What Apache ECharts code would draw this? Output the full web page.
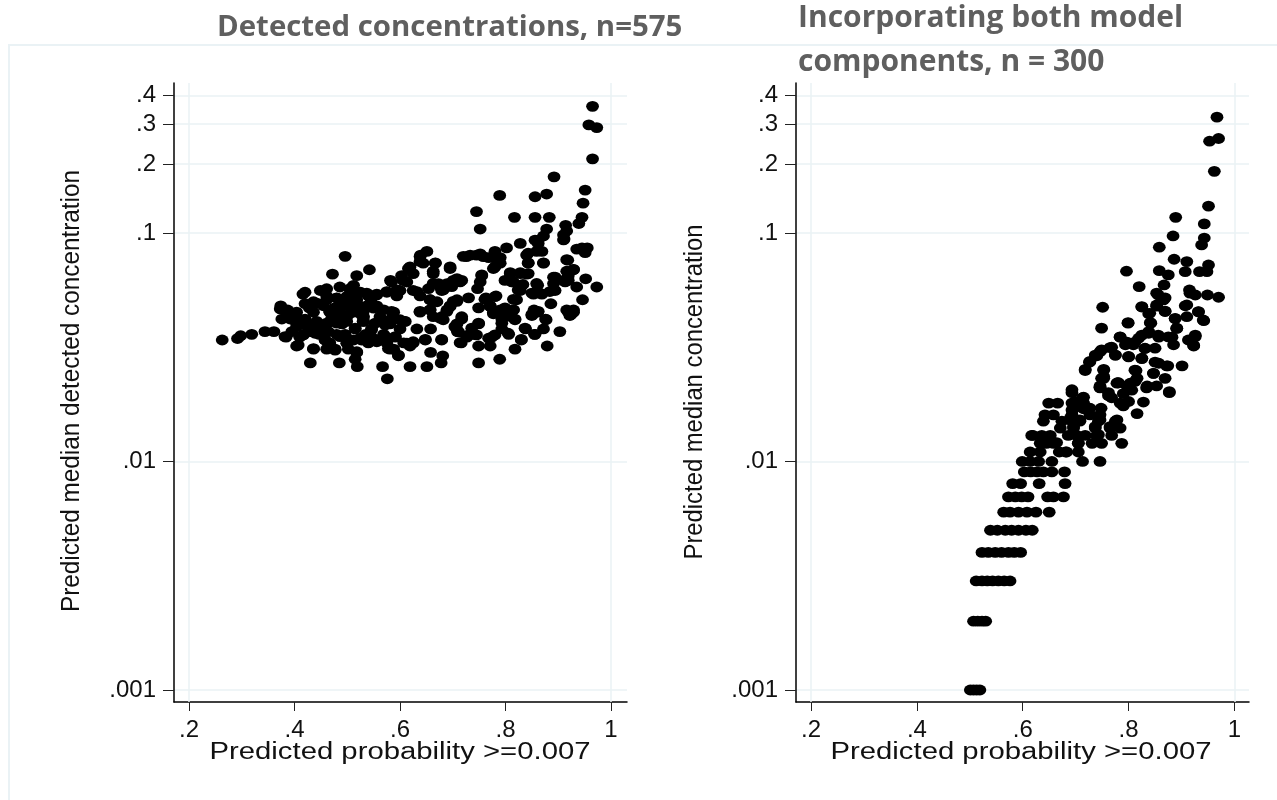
<!DOCTYPE html>
<html><head><meta charset="utf-8">
<style>html,body{margin:0;padding:0;background:#fff}#c{width:1277px;height:800px}</style>
<script src="https://cdn.jsdelivr.net/npm/echarts@6/dist/echarts.min.js"></script></head>
<body><div id="c"></div>
<script>
const xTicks = [0.2,0.4,0.6,0.8,1];
const yTicks = [0.001,0.01,0.1,0.2,0.3,0.4];
const leftTitle = 'Detected concentrations, n=575';
const rightTitle = 'Incorporating both model\ncomponents, n = 300';
const xName = 'Predicted probability >=0.007';
const leftYName = 'Predicted median detected concentration';
const rightYName = 'Predicted median concentration';
const detected = [
[.263,.034],[.292,.0345],[.298,.0355],[.319,.036],[.344,.037],[.361,.037],[.374,.048],[.387,.046],[.376,.042],[.392,.042],
[.384,.035],[.404,.032],[.436,.031],[.430,.027],[.485,.027],[.519,.026],[.515,.028],[.567,.026],[.576,.023],[.619,.026],
[.651,.026],[.678,.027],[.681,.029],[.658,.030],[.597,.029],[.581,.031],[.749,.027],[.789,.028],[.818,.031],[.830,.034],
[.879,.032],[.903,.037],[.855,.036],[.838,.038],[.872,.038],[.876,.042],[.716,.033],[.749,.032],[.771,.032],[.774,.035],
[.739,.036],[.749,.040],[.727,.035],[.708,.040],[.709,.037],[.717,.043],[.679,.034],[.648,.034],[.632,.038],[.658,.038],
[.806,.036],[.793,.038],[.793,.042],[.818,.042],[.790,.046],[.815,.046],[.799,.047],[.821,.051],[.828,.056],[.831,.059],
[.799,.062],[.809,.067],[.828,.067],[.840,.066],[.815,.061],[.853,.054],[.861,.059],[.869,.054],[.886,.049],[.854,.046],
[.850,.044],[.861,.045],[.894,.056],[.891,.064],[.910,.062],[.919,.062],[.916,.068],[.929,.069],[.918,.076],[.935,.058],
[.952,.063],[.973,.058],[.946,.051],[.919,.045],[.929,.045],[.924,.044],[.935,.085],[.945,.086],[.955,.086],[.951,.082],
[.843,.074],[.872,.074],[.840,.080],[.869,.083],[.862,.093],[.856,.093],[.872,.097],[.878,.104],[.828,.090],[.802,.086],
[.780,.083],[.790,.078],[.780,.071],[.755,.065],[.752,.061],[.747,.057],[.730,.052],[.763,.052],[.782,.053],[.749,.047],
[.771,.048],[.777,.045],[.720,.079],[.733,.080],[.752,.081],[.768,.078],[.695,.071],[.717,.062],[.701,.062],[.689,.060],
[.673,.060],[.679,.056],[.708,.051],[.695,.048],[.689,.046],[.679,.043],[.663,.043],[.657,.051],[.670,.050],[.638,.045],
[.657,.046],[.651,.083],[.639,.080],[.638,.075],[.667,.074],[.663,.068],[.619,.071],[.603,.065],[.582,.062],[.613,.061],
[.625,.056],[.654,.057],[.638,.053],[.600,.056],[.594,.053],[.575,.055],[.556,.054],[.540,.053],[.542,.069],[.518,.065],
[.496,.079],[.472,.066],[.486,.058],[.512,.059],[.461,.057],[.449,.056],[.420,.055],[.416,.054],[.420,.049],[.436,.050],
[.461,.053],[.480,.052],[.505,.054],[.518,.051],[.493,.048],[.505,.050],[.537,.048],[.556,.048],[.467,.045],[.436,.045],
[.483,.045],[.512,.045],[.531,.043],[.562,.043],[.588,.045],[.581,.040],[.608,.041],[.546,.038],[.515,.038],[.480,.036],
[.461,.040],[.436,.040],[.449,.039],[.420,.042],[.404,.039],[.417,.036],[.430,.037],[.458,.034],[.467,.033],[.461,.031],
[.477,.031],[.502,.031],[.518,.030],[.512,.034],[.527,.034],[.556,.034],[.569,.036],[.591,.035],[.607,.033],[.625,.033],
[.619,.032],[.588,.031],[.546,.035],[.496,.036],[.404,.045],[.505,.057],[.525,.055],[.495,.050],[.476,.047],[.520,.047],
[.545,.050],[.530,.041],[.497,.043],[.470,.042],[.570,.041],[.590,.042],[.600,.038],[.535,.036],[.490,.040],[.447,.036],
[.410,.035],[.395,.037],[.408,.042],[.425,.039],[.500,.033],[.540,.033],[.575,.033],[.530,.045],[.455,.048],[.428,.047],
[.745,.124],[.752,.104],[.789,.146],[.817,.117],[.856,.144],[.878,.148],[.856,.117],[.883,.117],[.892,.176],[.951,.154],
[.947,.135],[.945,.117],[.939,.110],[.914,.108],[.916,.102],[.910,.098],[.911,.094],[.965,.358],[.958,.297],[.973,.289],[.965,.211],
[.429,.0485],[.442,.0493],[.461,.051],[.480,.0519],[.499,.0527],[.518,.0536],[.537,.0545],[.556,.0536],[.575,.0554],[.594,.0563],
[.606,.062],[.584,.061],[.616,.0699],[.638,.0788],[.667,.0737],[.663,.0664],[.695,.0699],[.676,.0582],[.695,.0602],[.708,.0631],
[.486,.0477],[.505,.0485],[.524,.0477],[.550,.0469],[.569,.0461],[.584,.0454],[.467,.0454],[.483,.0439],[.502,.0439],[.512,.0454],
[.527,.0439],[.581,.0417],[.600,.0417],[.610,.041],[.572,.0396],[.553,.0403],[.531,.041],[.499,.041],[.480,.0403],[.461,.0403],
[.442,.041],[.423,.0403],[.407,.0396],[.398,.0417],[.373,.0465],[.385,.045],[.382,.0352],[.407,.0323],[.436,.0312],[.417,.0358],
[.439,.0364],[.458,.034],[.477,.0307],[.486,.0352],[.464,.037],[.499,.0329],[.515,.0383],[.524,.0346],[.518,.0302],[.546,.0377],
[.556,.0334],[.572,.0352],[.591,.0352],[.578,.0312],[.597,.0292],[.613,.0329],[.625,.0334],[.648,.0342],[.679,.0342],[.638,.0454],
[.657,.0461],[.676,.0424],[.695,.0477],[.708,.0502],[.657,.051],[.632,.0554],[.663,.0602],[.625,.0664],[.644,.0737],[.708,.0377],
[.714,.0611],[.698,.0582],[.682,.0563],[.726,.0788],[.745,.08],[.758,.0788],[.783,.0764],[.777,.0699],[.790,.0737],[.755,.0656],
[.843,.0815],[.859,.083],[.843,.0737],[.872,.0737],[.862,.09],[.910,.0932],[.916,.0764],[.929,.0693],[.894,.0641],[.919,.0649],
[.913,.0611],[.891,.0601],[.884,.0554],[.859,.0601],[.850,.0545],[.865,.0545],[.809,.0664],[.828,.0664],[.843,.0664],[.812,.0611],
[.833,.0595],[.824,.0563],[.815,.0512],[.799,.0461],[.815,.0461],[.809,.0431],[.818,.0417],[.793,.0403],[.805,.0364],[.780,.0526],
[.761,.0512],[.771,.0477],[.777,.0443],[.862,.0454],[.850,.0435],[.837,.0383],[.856,.036],[.877,.0417],[.830,.0342],[.922,.0435],
[.916,.046],[.929,.046],[.717,.042],[.704,.0389],[.711,.0369],[.749,.0403],[.736,.0383],[.730,.0358],[.745,.0358],[.714,.0331],
[.768,.0346],[.780,.0358],[.682,.0417],[.701,.0502],[.689,.0454]
];
const combined = [
[.967,.321],[.970,.259],[.953,.252],[.962,.186],[.951,.131],[.889,.117],[.943,.1095],[.884,.097],[.943,.095],[.938,.0886],
[.858,.0866],[.886,.0767],[.910,.0749],[.951,.0724],[.858,.0684],[.907,.0677],[.934,.0677],[.948,.0677],[.796,.068],[.875,.0655],
[.820,.0582],[.867,.0592],[.915,.0563],[.853,.0545],[.926,.0535],[.949,.0535],[.970,.0523],[.866,.0509],[.853,.0484],[.825,.0476],
[.751,.0473],[.910,.0484],[.869,.0453],[.932,.0453],[.840,.0445],[.910,.043],[.888,.0423],[.942,.0413],[.842,.0403],[.799,.0403],
[.749,.0383],[.891,.0383],[.926,.0352],[.838,.0364],[.913,.034],[.819,.0346],[.784,.035],[.857,.035],[.882,.035],[.885,.0324],
[.923,.032],[.794,.0324],[.809,.0324],[.768,.0316],[.749,.0308],[.831,.0313],[.850,.0313],[.775,.0292],[.740,.029],[.800,.0288],
[.825,.0283],[.727,.0274],[.857,.0269],[.718,.0253],[.874,.0262],[.901,.0262],[.753,.0253],[.814,.025],[.847,.0243],[.753,.0231],
[.869,.0231],[.779,.0221],[.812,.0224],[.746,.0214],[.797,.0214],[.835,.0214],[.853,.0214],[.693,.0206],[.877,.0202],
[.501,.001],[.507,.001],[.513,.001],[.519,.001],[.507,.002],[.515,.002],[.523,.002],[.530,.002],
[.512,.003],[.523,.003],[.533,.003],[.543,.003],[.554,.003],[.565,.003],[.576,.003],
[.523,.004],[.535,.004],[.548,.004],[.560,.004],[.573,.004],[.584,.004],[.596,.004],
[.539,.005],[.552,.005],[.567,.005],[.579,.005],[.592,.005],[.606,.005],[.618,.005],
[.564,.006],[.576,.006],[.592,.006],[.608,.006],[.625,.006],[.650,.006],
[.573,.007],[.586,.007],[.598,.007],[.610,.007],[.647,.007],[.658,.007],[.677,.007],
[.581,.008],[.596,.008],[.631,.008],[.680,.008],
[.603,.009],[.615,.009],[.627,.009],[.639,.009],[.655,.009],[.679,.009],
[.599,.010],[.614,.010],[.630,.010],[.655,.010],[.713,.010],[.746,.010],
[.614,.011],[.633,.011],[.669,.011],[.681,.011],[.705,.011],
[.633,.012],[.645,.012],[.658,.012],[.705,.012],[.731,.012],[.749,.012],
[.619,.013],[.636,.013],[.652,.013],[.686,.013],[.702,.013],[.718,.013],[.740,.013],[.768,.013],
[.671,.014],[.696,.014],[.737,.014],[.765,.014],[.784,.014],
[.639,.015],[.674,.015],[.693,.015],[.708,.015],[.743,.015],[.775,.015],
[.642,.016],[.658,.016],[.693,.016],[.727,.016],[.746,.016],
[.696,.017],[.715,.017],[.649,.018],[.666,.018],[.693,.018],[.715,.018],[.784,.018],
[.713,.019],[.768,.019],[.693,.020],[.762,.020],[.746,.021],[.778,.022],[.753,.0235],[.718,.025],
[.799,.0405],[.841,.0405],[.825,.0474],[.838,.0443],[.853,.0478],[.869,.0455],[.856,.0535],[.869,.052],[.916,.0545],[.907,.048],
[.932,.0451],[.888,.0421],[.941,.0416],[.891,.0382],[.784,.0351],[.797,.0333],[.812,.0333],[.825,.0357],[.838,.037],[.856,.0357],
[.875,.0351],[.926,.0357],[.916,.0339],[.923,.0322],[.746,.0302],[.765,.0315],[.775,.0292],[.800,.0287],[.825,.0282],[.831,.0312],
[.737,.0292],[.726,.0272],[.753,.0251],[.749,.0231],[.746,.0211],[.812,.0251],[.816,.0231],[.850,.0272],[.872,.0262],[.847,.0243],
[.877,.02],[.781,.0221],[.803,.022],[.834,.021],[.762,.0194],[.790,.0198],[.806,.0205],[.790,.0175],[.828,.0182],[.816,.0162],
[.800,.0183],[.715,.0191],[.699,.0183],[.727,.0171],[.748,.0171],[.693,.0168],[.708,.0152],[.690,.0155],[.746,.0152],[.778,.0152],
[.737,.0142],[.765,.0142],[.787,.012],[.743,.0131],[.617,.013],[.664,.0121],[.683,.011],[.705,.012],[.696,.0142]
];
const frameColor = '#eaf2f5', ink = '#000', dot = '#000', textColor = '#111';
const axisFont = 'Liberation Sans';
const measure = document.createElement('canvas').getContext('2d');
function fit(text, size, target){ measure.font = size+'px "'+axisFont+'"'; return target/measure.measureText(text).width; }

function xAxisOpt(grid, min, max){
  return {type:'value',gridIndex:grid,min,max,
    axisLine:{onZero:false,lineStyle:{color:ink,width:1.5}},
    axisTick:{show:true,length:9,customValues:xTicks,lineStyle:{color:'#222',width:1}},
    axisLabel:{show:true,customValues:xTicks,margin:16,fontFamily:axisFont,fontSize:24,color:textColor,
      hideOverlap:false,showMinLabel:true,showMaxLabel:true,
      formatter:v=>String(v).replace(/^0/,'')},
    splitLine:{show:false}};
}
function yAxisOpt(grid){
  return {type:'log',logBase:10,gridIndex:grid,min:0.000886,max:0.453,
    axisLine:{onZero:false,lineStyle:{color:ink,width:1.5}},
    axisTick:{show:true,length:11,customValues:yTicks,lineStyle:{color:'#222',width:1}},
    axisLabel:{show:true,customValues:yTicks,margin:18,fontFamily:axisFont,fontSize:24,color:textColor,
      hideOverlap:false,formatter:v=>String(+(+v).toPrecision(3)).replace(/^0/,'')},
    splitLine:{show:true,lineStyle:{color:frameColor,width:1.5}}};
}
function scatter(i,data){
  return {type:'scatter',xAxisIndex:i,yAxisIndex:i,data,symbol:'circle',symbolSize:[12.8,10.8],
    itemStyle:{color:dot,opacity:1},clip:false,silent:true,z:5,
    markLine:{silent:true,symbol:'none',label:{show:false},animation:false,z:1,
      lineStyle:{color:frameColor,width:1.5,type:'solid'},
      data:[{xAxis:xTicks[0]},{xAxis:xTicks[xTicks.length-1]}]}};
}
function xTitle(cx){
  return {type:'text',silent:true,x:cx,y:753,scaleX:fit(xName,23,381),scaleY:1,
    style:{text:xName,font:'23px "'+axisFont+'"',fill:textColor,align:'center',verticalAlign:'middle'}};
}
function yTitle(text,cx,cy,len){
  return {type:'text',silent:true,x:cx,y:cy,rotation:Math.PI/2,scaleX:fit(text,25,len),scaleY:1,
    style:{text,font:'25px "'+axisFont+'"',fill:textColor,align:'center',verticalAlign:'middle'}};
}
const chart = echarts.init(document.getElementById('c'),null,{renderer:'canvas'});
chart.setOption({
  animation:false,backgroundColor:'#fff',
  title:[
    {text:leftTitle,left:212,top:8,textStyle:{fontFamily:'Open Sans',fontWeight:'bold',fontSize:29.4,color:'#5f5f5f'}},
    {text:rightTitle,left:793,top:-9,textStyle:{fontFamily:'Open Sans',fontWeight:'bold',fontSize:30,lineHeight:44,color:'#5f5f5f'}}
  ],
  graphic:[
    {type:'polyline',silent:true,z:-1,shape:{points:[[9,800],[9,45],[1277,45]]},style:{stroke:frameColor,lineWidth:2,fill:null}},
    xTitle(400),xTitle(1021),
    yTitle(leftYName,72,391,442),yTitle(rightYName,695,392,335)
  ],
  grid:[
    {left:174,top:83,width:453,height:619},
    {left:796,top:83,width:453,height:619}
  ],
  xAxis:[xAxisOpt(0,0.1716,1.0303),xAxisOpt(1,0.1716,1.0275)],
  yAxis:[yAxisOpt(0),yAxisOpt(1)],
  series:[scatter(0,detected),scatter(1,combined)]
});
</script></body></html>
